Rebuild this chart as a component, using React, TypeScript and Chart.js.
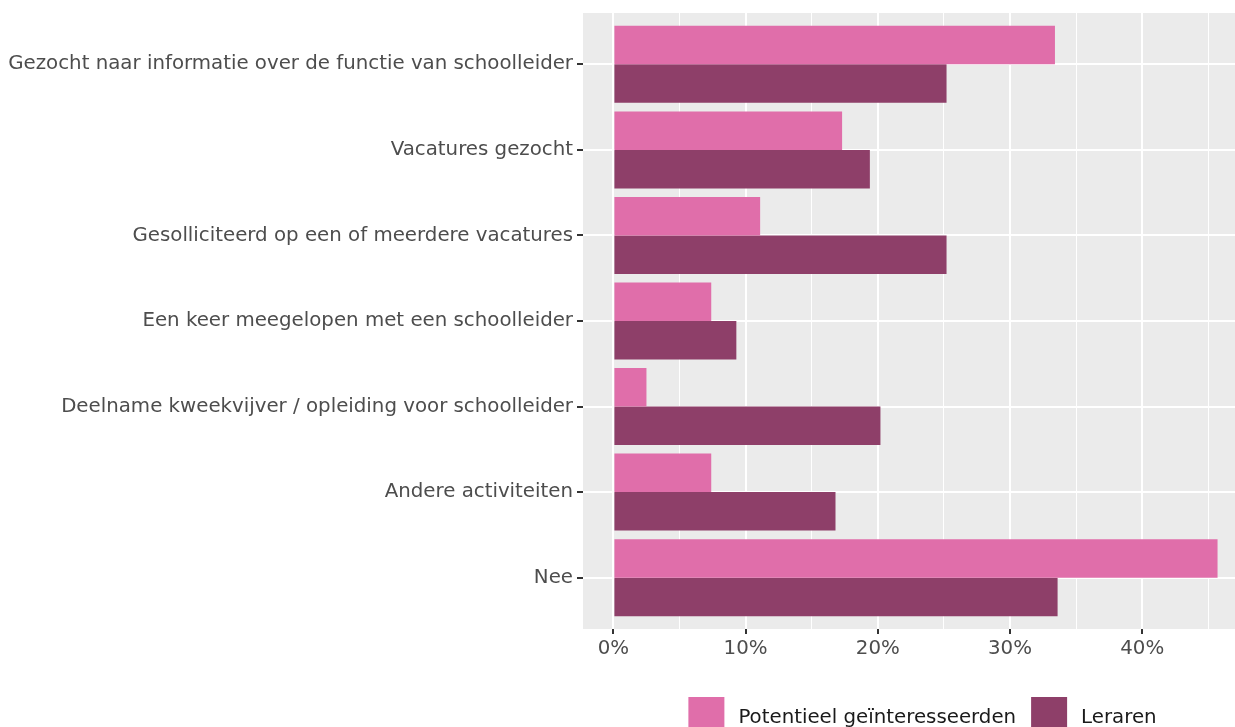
import { useEffect, useRef } from "react";
import { Chart, registerables } from "chart.js";

Chart.register(...registerables);

const categories = [
  "Gezocht naar informatie over de functie van schoolleider",
  "Vacatures gezocht",
  "Gesolliciteerd op een of meerdere vacatures",
  "Een keer meegelopen met een schoolleider",
  "Deelname kweekvijver / opleiding voor schoolleider",
  "Andere activiteiten",
  "Nee",
];
const seriesNames = ["Potentieel geïnteresseerden", "Leraren"];
const potentieel = [33.4, 17.3, 11.1, 7.4, 2.5, 7.4, 45.7];
const leraren = [25.2, 19.4, 25.2, 9.3, 20.2, 16.8, 33.6];
const xTicks = [0, 5, 10, 15, 20, 25, 30, 35, 40, 45];
const xTickLabels = ["0%", "", "10%", "", "20%", "", "30%", "", "40%", ""];

const colors = ["#E06EAA", "#8E3F69"];
const FONT = "'DejaVu Sans', sans-serif";
const FS = 19.8;

const panelBg = {
  id: "panelBg",
  beforeDraw(chart: any) {
    const { ctx, chartArea } = chart;
    ctx.save();
    ctx.fillStyle = "#EBEBEB";
    ctx.fillRect(chartArea.left, chartArea.top, chartArea.right - chartArea.left, chartArea.bottom - chartArea.top);
    ctx.restore();
  },
};

const legendPlugin = {
  id: "ggLegend",
  afterDraw(chart: any) {
    const { ctx } = chart;
    ctx.save();
    ctx.font = `${FS}px ${FONT}`;
    const box = 36;
    const gapText = 14;
    const gapItem = 15;
    const widths = seriesNames.map((n) => ctx.measureText(n).width);
    const total = widths.reduce((a, w) => a + box + gapText + w, 0) + gapItem * (seriesNames.length - 1);
    let x = 922.5 - total / 2;
    const top = 697;
    seriesNames.forEach((n, i) => {
      ctx.fillStyle = colors[i];
      ctx.fillRect(x, top, box, box);
      x += box + gapText;
      ctx.fillStyle = "#1A1A1A";
      ctx.textBaseline = "alphabetic";
      ctx.textAlign = "left";
      ctx.fillText(n, x, 723);
      x += widths[i] + gapItem;
    });
    ctx.restore();
  },
};

export default function App() {
  const ref = useRef<HTMLCanvasElement | null>(null);
  useEffect(() => {
    if (!ref.current) return;
    const chart = new Chart(ref.current, {
      type: "bar",
      data: {
        datasets: [
          {
            label: seriesNames[0],
            data: potentieel.map((v, i) => ({ x: v, y: i + 1 })),
            backgroundColor: colors[0],
            borderWidth: 0,
          },
          {
            label: seriesNames[1],
            data: leraren.map((v, i) => ({ x: v, y: i + 1 })),
            backgroundColor: colors[1],
            borderWidth: 0,
          },
        ],
      },
      options: {
        indexAxis: "y",
        animation: false,
        responsive: false,
        devicePixelRatio: 1,
        layout: { padding: { top: 13, left: 0, right: 0, bottom: 0 } },
        datasets: { bar: { categoryPercentage: 0.9, barPercentage: 1 } },
        plugins: {
          legend: { display: false },
          tooltip: { enabled: false },
        },
        scales: {
          x: {
            type: "linear",
            min: -2.3,
            max: 47.02,
            offset: false,
            afterBuildTicks: (scale: any) => {
              scale.ticks = xTicks.map((v) => ({ value: v }));
            },
            afterFit: (scale: any) => {
              scale.height = 98;
              scale.paddingLeft = 0;
              scale.paddingRight = 0;
            },
            border: { display: false },
            grid: {
              offset: false,
              color: "#FFFFFF",
              lineWidth: (c: any) => (c.tick && c.tick.value % 10 === 0 ? 2 : 1),
              drawTicks: true,
              tickLength: 5,
              tickColor: (c: any) => (c.tick && c.tick.value % 10 === 0 ? "#333333" : "rgba(0,0,0,0)"),
              tickWidth: 2,
            },
            ticks: {
              autoSkip: false,
              maxRotation: 0,
              padding: 3,
              color: "#4D4D4D",
              font: { family: FONT, size: FS },
              callback: (v: any) => {
                const i = xTicks.indexOf(Number(v));
                return i >= 0 ? xTickLabels[i] : "";
              },
            },
          },
          y: {
            type: "linear",
            min: 0.4,
            max: 7.6,
            reverse: true,
            offset: false,
            afterBuildTicks: (scale: any) => {
              scale.ticks = categories.map((_, i) => ({ value: i + 1 }));
            },
            afterFit: (scale: any) => {
              scale.width = 583;
              scale.paddingTop = 0;
              scale.paddingBottom = 0;
            },
            border: { display: false },
            grid: {
              offset: false,
              color: "#FFFFFF",
              lineWidth: 2,
              drawTicks: true,
              tickLength: 6,
              tickColor: "#333333",
              tickWidth: 2,
            },
            ticks: {
              autoSkip: false,
              padding: 4,
              color: "#4D4D4D",
              font: { family: FONT, size: FS },
              callback: (v: any) => categories[Number(v) - 1] ?? "",
            },
          },
        },
      } as any,
      plugins: [panelBg, legendPlugin],
    });
    return () => chart.destroy();
  }, []);
  return (
    <div style={{ position: "absolute", left: 0, top: 0, width: 1235, height: 727, overflow: "hidden", background: "#FFFFFF" }}>
      <canvas ref={ref} width={1235} height={727} style={{ display: "block" }} />
    </div>
  );
}
